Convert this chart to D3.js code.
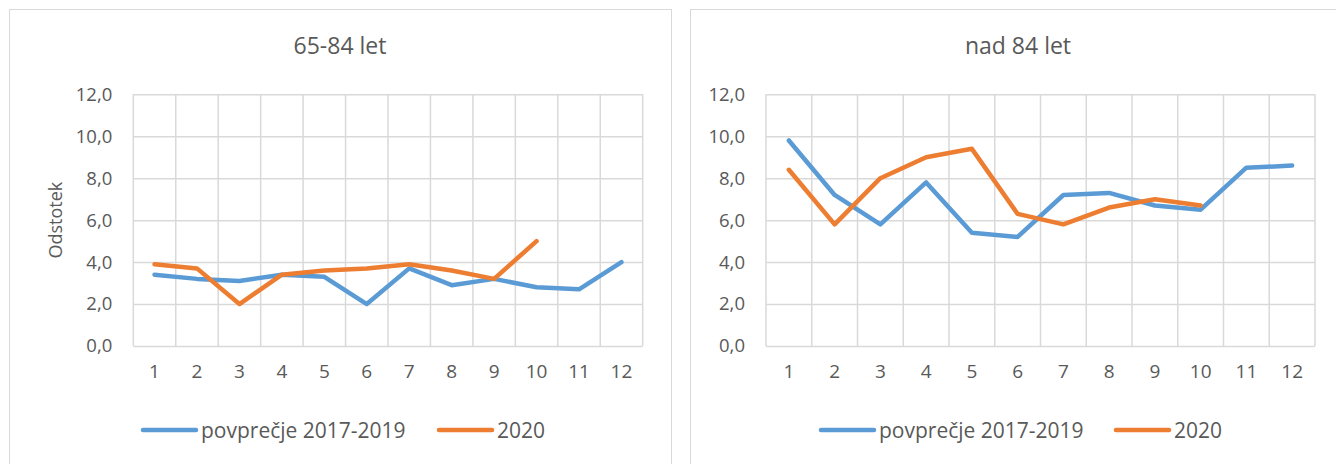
<!DOCTYPE html>
<html>
<head>
<meta charset="utf-8">
<script src="https://cdn.jsdelivr.net/npm/d3@7"></script>
<style>
  html, body { margin: 0; padding: 0; background: #fff; }
  svg { display: block; }
  text { font-family: "Open Sans", "Noto Sans", sans-serif; fill: #595959; }
</style>
</head>
<body>
<svg id="chart" width="1336" height="464"></svg>
<script>
// Months of the year
const months = ["1", "2", "3", "4", "5", "6", "7", "8", "9", "10", "11", "12"];
const yTicks = [0, 2, 4, 6, 8, 10, 12];
const seriesNames = ["povprečje 2017-2019", "2020"];
const seriesColors = ["#5b9bd5", "#ed7d31"];

// Age group 65-84
const avg6584 = [3.4, 3.2, 3.1, 3.4, 3.3, 2.0, 3.7, 2.9, 3.2, 2.8, 2.7, 4.0];
const y2020_6584 = [3.9, 3.7, 2.0, 3.4, 3.6, 3.7, 3.9, 3.6, 3.2, 5.0, null, null];

// Age group over 84
const avgOver84 = [9.8, 7.2, 5.8, 7.8, 5.4, 5.2, 7.2, 7.3, 6.7, 6.5, 8.5, 8.6];
const y2020_over84 = [8.4, 5.8, 8.0, 9.0, 9.4, 6.3, 5.8, 6.6, 7.0, 6.7, null, null];

const fmt = v => d3.format(".1f")(v).replace(".", ",");
const svg = d3.select("#chart");

function drawPanel(cfg) {
  const g = svg.append("g");

  // chart frame
  g.append("rect")
    .attr("x", cfg.frame[0]).attr("y", cfg.frame[1])
    .attr("width", cfg.frame[2]).attr("height", cfg.frame[3])
    .attr("fill", "#fff").attr("stroke", "#d9d9d9").attr("stroke-width", 1);

  // title
  g.append("text")
    .attr("x", cfg.frame[0] + cfg.titleDx).attr("y", 53.5)
    .attr("text-anchor", "middle")
    .style("font-size", "23px")
    .text(cfg.title);

  const x = d3.scaleBand().domain(months).range([cfg.left, cfg.right]).padding(0);
  const y = d3.scaleLinear().domain([0, 12]).range([346, 94.3]);

  // horizontal gridlines + value labels
  const yAxis = d3.axisLeft(y).tickValues(yTicks).tickFormat(fmt)
    .tickSize(-(cfg.right - cfg.left)).tickPadding(21);
  const ya = g.append("g").attr("transform", `translate(${cfg.left},0)`).call(yAxis);
  ya.select(".domain").remove();
  ya.selectAll(".tick line").attr("stroke", "#d9d9d9").attr("stroke-width", 1.5);
  ya.selectAll(".tick text").style("font-size", "18.5px").attr("fill", "#595959");

  // vertical gridlines on month boundaries
  const bounds = months.map(m => x(m)).concat([x(months[months.length - 1]) + x.bandwidth()]);
  g.append("g").selectAll("line").data(bounds).join("line")
    .attr("x1", d => d).attr("x2", d => d)
    .attr("y1", y(12)).attr("y2", y(0))
    .attr("stroke", "#d9d9d9").attr("stroke-width", 1.5);

  // month labels
  const xAxis = d3.axisBottom(x).tickSize(0).tickPadding(19);
  const xa = g.append("g").attr("transform", `translate(0,${y(0)})`).call(xAxis);
  xa.select(".domain").remove();
  xa.selectAll(".tick text").style("font-size", "19px").attr("fill", "#595959");

  // series lines
  const line = d3.line()
    .defined(d => d.v !== null)
    .x(d => x(d.m) + x.bandwidth() / 2)
    .y(d => y(d.v));
  cfg.series.forEach((vals, i) => {
    g.append("path")
      .datum(months.map((m, k) => ({ m, v: vals[k] })))
      .attr("d", line)
      .attr("fill", "none")
      .attr("stroke", seriesColors[i])
      .attr("stroke-width", 4.5)
      .attr("stroke-linejoin", "round")
      .attr("stroke-linecap", "round");
  });

  // legend
  cfg.legend.forEach((lx, i) => {
    g.append("line")
      .attr("x1", lx).attr("x2", lx + 53)
      .attr("y1", 430).attr("y2", 430)
      .attr("stroke", seriesColors[i]).attr("stroke-width", 4.5)
      .attr("stroke-linecap", "round");
    g.append("text")
      .attr("x", lx + 58).attr("y", 438)
      .style("font-size", "21px")
      .text(seriesNames[i]);
  });

  if (cfg.yLabel) {
    g.append("text")
      .attr("transform", `translate(62,${(y(0) + y(12)) / 2}) rotate(-90)`)
      .attr("text-anchor", "middle")
      .style("font-size", "18px")
      .text(cfg.yLabel);
  }
}

drawPanel({
  frame: [9.5, 9.5, 662, 480], titleDx: 330.5,
  title: "65-84 let", left: 133.3, right: 642.7,
  series: [avg6584, y2020_6584], legend: [143, 439], yLabel: "Odstotek"
});

drawPanel({
  frame: [690.5, 9.5, 680, 480], titleDx: 327.5,
  title: "nad 84 let", left: 766, right: 1315,
  series: [avgOver84, y2020_over84], legend: [821, 1116], yLabel: null
});
</script>
</body>
</html>
